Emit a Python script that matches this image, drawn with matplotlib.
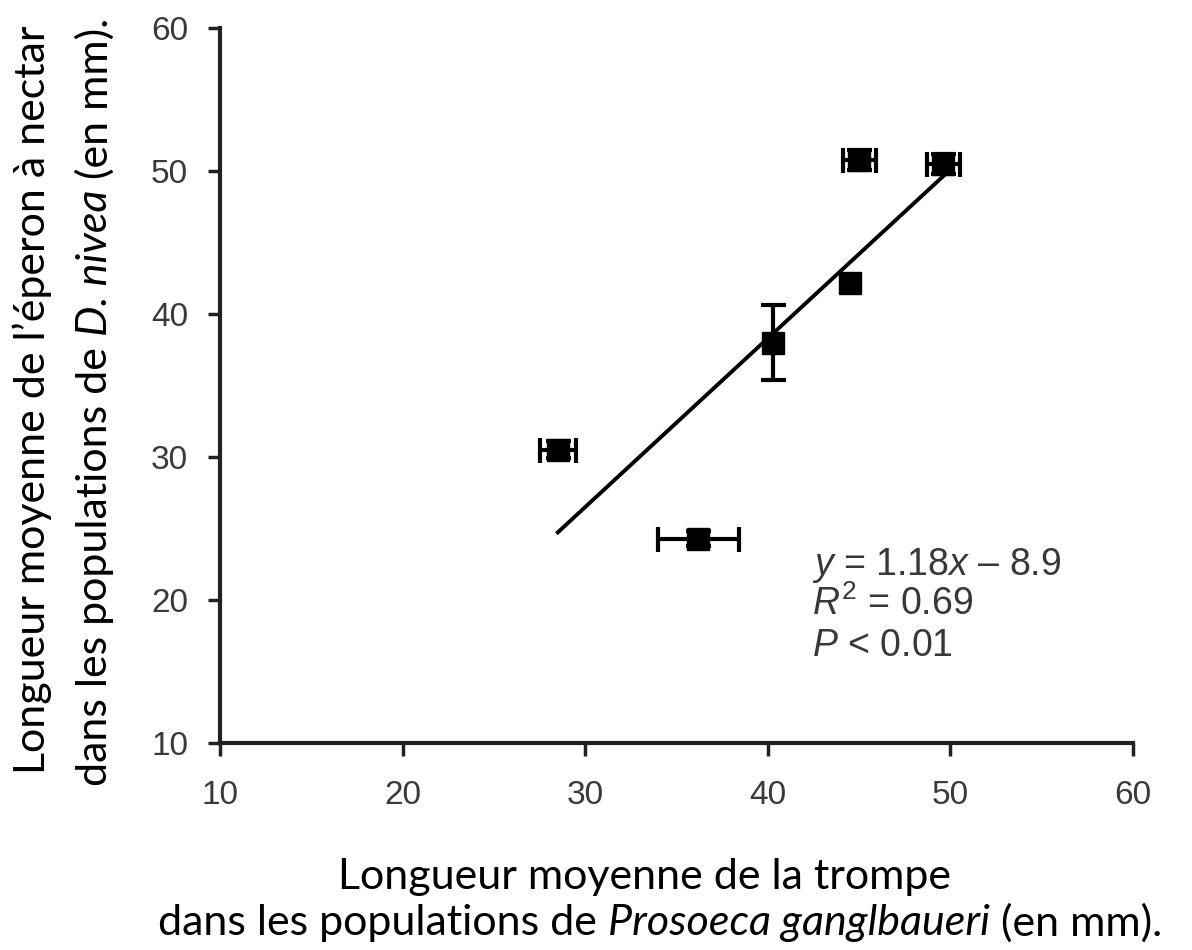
import matplotlib
matplotlib.use("Agg")
import matplotlib.pyplot as plt
import numpy as np

plt.rcParams['mathtext.fontset'] = 'custom'
plt.rcParams['mathtext.rm'] = 'Liberation Sans'
plt.rcParams['mathtext.it'] = 'Liberation Sans:italic'

# Data
x_vals = [28.5, 36.2, 40.3, 44.5, 45.0, 49.6]
y_vals = [30.5, 24.3, 38.0, 42.2, 50.8, 50.5]
x_err = [1.0, 2.2, 0.0, 0.0, 0.9, 0.9]
y_err = [0.6, 0.5, 2.6, 0.0, 0.7, 0.7]
slope = 1.18
intercept = -8.9
fit_range = [28.5, 49.6]
x_ticks = [10, 20, 30, 40, 50, 60]
y_ticks = [10, 20, 30, 40, 50, 60]

W, H = 1192, 950
fig = plt.figure(figsize=(W/100, H/100), dpi=100)
ax = fig.add_axes([220/W, 1-743/H, (1133-220)/W, (743-28)/H])

eb = dict(fmt='none', ecolor='black', elinewidth=3, capsize=9, capthick=3)
for xi, yi, xe, ye in zip(x_vals, y_vals, x_err, y_err):
    if xe > 0:
        ax.errorbar([xi], [yi], xerr=[xe], **eb)
    if ye > 0:
        ax.errorbar([xi], [yi], yerr=[ye], **eb)
ax.plot(x_vals, y_vals, 's', color='black', ms=16, ls='none')

xf = np.array(fit_range)
ax.plot(xf, slope*xf + intercept, color='black', lw=2.8)

ax.set_xlim(10, 60)
ax.set_ylim(10, 60)
ax.set_xticks(x_ticks)
ax.set_yticks(y_ticks)
for s in ['top', 'right']:
    ax.spines[s].set_visible(False)
for s in ['left', 'bottom']:
    ax.spines[s].set_linewidth(3)
    ax.spines[s].set_color('#222222')
ax.tick_params(direction='out', length=9, width=2.5, color='#222222',
               labelsize=24, labelcolor='#3a3a3a')
ax.tick_params(axis='x', pad=18)
ax.tick_params(axis='y', pad=14)
for lab in ax.get_xticklabels() + ax.get_yticklabels():
    lab.set_family('Liberation Sans')

# Annotation
tfont = dict(fontsize=27, family='Liberation Sans', color='#383838', va='baseline')
ax.text(42.4, 21.75, r'$y$ = 1.18$x$ – 8.9', **tfont)
ax.text(42.4, 18.95, r'$R^{2}$ = 0.69', **tfont)
ax.text(42.4, 16.05, r'$P$ < 0.01', **tfont)

renderer = fig.canvas.get_renderer()
lfont = dict(fontsize=31, family='Lato', color='black')


def rich(cx, cy, pieces, vertical=False):
    """Place text pieces (text, italic) in sequence, centred at pixel (cx, cy)."""
    objs = []
    for txt, ital in pieces:
        t = fig.text(0, 0, txt, style='italic' if ital else 'normal',
                     rotation=90 if vertical else 0,
                     ha='left', va='center_baseline' if not vertical else 'bottom',
                     **lfont)
        objs.append(t)
    sizes = []
    for t in objs:
        bb = t.get_window_extent(renderer)
        sizes.append(bb.height if vertical else bb.width)
    total = sum(sizes)
    pos = (H - cy) - total/2 if vertical else cx - total/2
    for t, s in zip(objs, sizes):
        if vertical:
            t.set_ha('center')
            t.set_va('bottom')
            t.set_position((cx/W, pos/H))
        else:
            t.set_position((pos/W, 1 - cy/H))
        pos += s


rich(644, 873, [('Longueur moyenne de la trompe', False)])
rich(660, 920, [('dans les populations de ', False), ('Prosoeca ganglbaueri', True), (' (en mm).', False)])
rich(32, 400, [('Longueur moyenne de l\u2019éperon à nectar', False)], vertical=True)
rich(95, 402, [('dans les populations de ', False), ('D. nivea', True), (' (en mm).', False)], vertical=True)

fig.savefig('out.png', dpi=100)
